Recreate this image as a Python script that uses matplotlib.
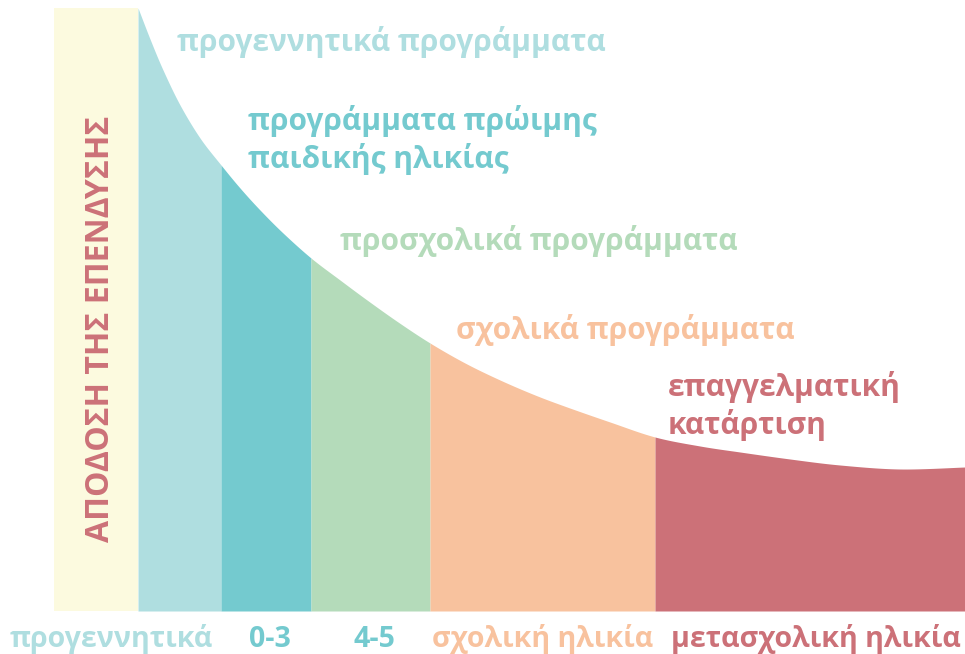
import matplotlib.pyplot as plt
import numpy as np

plt.rcParams['font.family'] = ['Open Sans', 'DejaVu Sans']

# καμπύλη απόδοσης (x σε μονάδες διαγράμματος, ύψος πάνω από τη βάση)
curve_x = [138, 150, 163, 180, 200, 221, 240, 260, 283, 311, 340, 367, 398, 430,
           465, 500, 535, 567, 610, 655, 700, 740, 790, 840, 900, 965]
curve_y = [603, 572, 541, 506, 473, 446, 423, 401, 378, 353, 331, 311, 289, 268,
           248, 231, 216, 204, 189, 174, 165, 159, 152, 146, 142, 144]

# όρια τμημάτων
bounds = [138, 221, 311, 430, 655, 965]
seg_colors = ['#AFDEE0', '#74CACF', '#B4DBBA', '#F8C29E', '#CC7178']

band_x = [54, 138]
band_top = 603

bottom_labels = ['προγεννητικά', '0-3', '4-5', 'σχολική ηλικία', 'μετασχολική ηλικία']
bottom_x = [111, 270, 374, 543, 816]
bottom_colors = ['#AFDEE0', '#74CACF', '#74CACF', '#F8C29E', '#CC7178']

prog_labels = ['προγεννητικά προγράμματα', 'προγράμματα πρώιμης\nπαιδικής ηλικίας',
               'προσχολικά προγράμματα', 'σχολικά προγράμματα', 'επαγγελματική\nκατάρτιση']
# θέση της γραμμής βάσης της τελευταίας γραμμής κάθε ετικέτας
prog_xy = [(177, 560), (248, 443), (340, 361), (456, 272), (668, 177)]


def smooth(xp, yp, n=20):
    # Catmull-Rom μέσα από τα σημεία, μόνο για ομαλή σχεδίαση
    p = np.column_stack([xp, yp]).astype(float)
    p = np.vstack([p[0], p, p[-1]])
    out = []
    t = np.linspace(0, 1, n, endpoint=False)[:, None]
    for i in range(1, len(p) - 2):
        p0, p1, p2, p3 = p[i - 1], p[i], p[i + 1], p[i + 2]
        out.append(0.5 * ((2 * p1) + (-p0 + p2) * t + (2 * p0 - 5 * p1 + 4 * p2 - p3) * t ** 2
                          + (-p0 + 3 * p1 - 3 * p2 + p3) * t ** 3))
    out.append(p[-2][None, :])
    out = np.vstack(out)
    return out[:, 0], out[:, 1]


fig = plt.figure(figsize=(9.65, 6.54), dpi=100)
ax = fig.add_axes([0, 43 / 654, 1, 611 / 654])
ax.set_xlim(0, 965)
ax.set_ylim(0, 611)
ax.axis('off')

# κίτρινη στήλη
ax.fill_between(band_x, 0, band_top, color='#FCFADF', lw=0)
ax.text(101, 282, 'ΑΠΟΔΟΣΗ ΤΗΣ ΕΠΕΝΔΥΣΗΣ', rotation=90, ha='center', va='center',
        color='#CC7178', fontsize=23, fontweight='bold')

sx, sy = smooth(curve_x, curve_y)
for i in range(len(seg_colors)):
    x0, x1 = bounds[i], bounds[i + 1]
    m = (sx > x0) & (sx < x1)
    xs = np.concatenate([[x0], sx[m], [x1]])
    ys = np.interp(xs, sx, sy)
    ax.fill_between(xs, 0, ys, color=seg_colors[i], lw=0)

for (x, y), t, c in zip(prog_xy, prog_labels, seg_colors):
    ax.text(x, y, t, ha='left', va='baseline', color=c, fontsize=21.5, fontweight='bold',
            linespacing=1.23)

for x, t, c in zip(bottom_x, bottom_labels, bottom_colors):
    fig.text(x / 965, 7 / 654, t, ha='center', va='baseline', color=c,
             fontsize=20.5, fontweight='bold')

fig.savefig('out.png', dpi=100)
